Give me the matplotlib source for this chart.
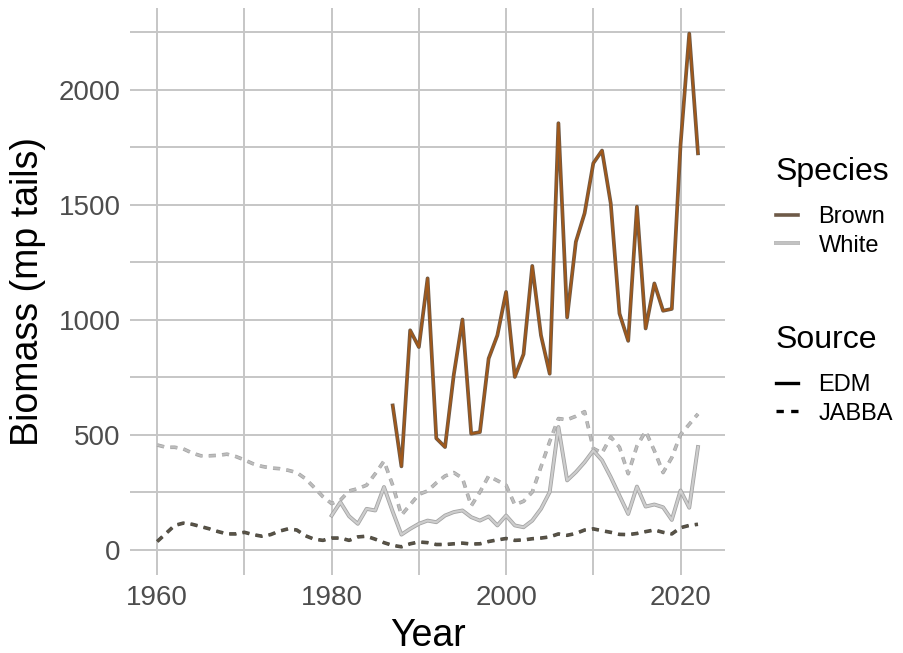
import numpy as np
import matplotlib.pyplot as plt
import matplotlib.patheffects as pe
from matplotlib.lines import Line2D

plt.rcParams['font.family'] = ['Liberation Sans', 'DejaVu Sans']

# ---- data ----
years_jabba = list(range(1960, 2023))
years_white_edm = list(range(1980, 2023))
years_brown_edm = list(range(1987, 2023))

brown_edm = [627, 362, 954, 881, 1180, 484, 446, 760, 1001, 504, 511, 831, 932, 1121,
             751, 850, 1234, 932, 765, 1855, 1010, 1339, 1463, 1681, 1736, 1506, 1027,
             908, 1492, 962, 1158, 1039, 1047, 1760, 2245, 1724]

white_edm = [148, 206, 145, 112, 177, 170, 272, 165, 65, 90, 112, 126, 119, 148, 163,
             170, 141, 126, 144, 105, 148, 105, 97, 126, 177, 250, 533, 301, 337, 380,
             431, 388, 315, 235, 155, 274, 187, 196, 184, 129, 257, 182, 446]

white_jabba = [455, 445, 445, 438, 420, 408, 408, 410, 415, 405, 390, 373, 362, 355, 352,
               345, 335, 308, 270, 230, 200, 215, 255, 265, 280, 330, 385, 280, 150, 195,
               240, 255, 290, 320, 335, 310, 190, 250, 320, 300, 280, 195, 210, 250, 360,
               470, 570, 565, 580, 600, 440, 420, 490, 445, 330, 450, 515, 430, 335, 400,
               500, 545, 590]

brown_jabba = [35, 70, 105, 115, 110, 100, 90, 78, 68, 68, 75, 65, 58, 65, 80, 90, 85,
               60, 45, 40, 50, 50, 40, 55, 58, 45, 30, 18, 12, 25, 33, 30, 22, 22, 25,
               28, 24, 25, 35, 42, 48, 40, 42, 47, 50, 55, 68, 62, 70, 85, 90, 82, 75,
               66, 65, 70, 78, 85, 75, 68, 95, 105, 110]

fig = plt.figure(figsize=(9.04, 6.53), dpi=100)
ax = fig.add_axes([0.144, 0.119, 0.658, 0.869])

grid_col = '#c6c6c6'
for v in range(1960, 2030, 10):
    ax.axvline(v, color=grid_col, lw=1.4, zorder=0)
for h in range(0, 2500, 250):
    ax.axhline(h, color=grid_col, lw=1.4, zorder=0)

dash = (0, (3.2, 2.8))

# JABBA (dashed)
ax.plot(years_jabba, white_jabba, color='#bdbdbd', lw=1.6, linestyle=dash,
        path_effects=[pe.Stroke(linewidth=2.6, foreground='#a2a2a2'), pe.Normal()], zorder=2)
ax.plot(years_jabba, brown_jabba, color='#5a5346', lw=1.6, linestyle=dash,
        path_effects=[pe.Stroke(linewidth=2.6, foreground='#4a4a44'), pe.Normal()], zorder=2)

# EDM (solid)
ax.plot(years_white_edm, white_edm, color='#cdcdcd', lw=1.6,
        path_effects=[pe.Stroke(linewidth=2.8, foreground='#a4a4a4'), pe.Normal()], zorder=3)
ax.plot(years_brown_edm, brown_edm, color='#a0581a', lw=1.5,
        path_effects=[pe.Stroke(linewidth=2.7, foreground='#6e5a48'), pe.Normal()], zorder=4)

ax.set_xlim(1956.9, 2025.1)
ax.set_ylim(-112, 2357)
ax.set_xticks([1960, 1980, 2000, 2020])
ax.set_yticks([0, 500, 1000, 1500, 2000])
for s in ax.spines.values():
    s.set_visible(False)
ax.tick_params(length=0, labelsize=20, colors='#4d4d4d', pad=7)
ax.set_xlabel('Year', fontsize=27, labelpad=5)
ax.set_ylabel('Biomass (mp tails)', fontsize=27, labelpad=9)

# legends (titles drawn as plain text for spacing control)
W, H = 904, 653
fig.text(776 / W, 1 - 172 / H, 'Species', fontsize=23, va='center', ha='left')
fig.text(776 / W, 1 - 340 / H, 'Source', fontsize=23, va='center', ha='left')

sp_handles = [Line2D([], [], color='#6e5a48', lw=2.6),
              Line2D([], [], color='#c2c2c2', lw=2.6,
                     path_effects=[pe.Stroke(linewidth=2.8, foreground='#a8a8a8'), pe.Normal()])]
leg1 = fig.legend(sp_handles, ['Brown', 'White'], loc='upper left',
                  bbox_to_anchor=(776 / W, 1 - 206 / H), frameon=False, fontsize=17,
                  handlelength=0.95, handletextpad=0.85, labelspacing=0.28,
                  borderpad=0, borderaxespad=0)
src_handles = [Line2D([], [], color='black', lw=2.4),
               Line2D([], [], color='black', lw=2.4, linestyle=(0, (2.2, 2.2)))]
leg2 = fig.legend(src_handles, ['EDM', 'JABBA'], loc='upper left',
                  bbox_to_anchor=(776 / W, 1 - 374 / H), frameon=False, fontsize=17,
                  handlelength=0.95, handletextpad=0.85, labelspacing=0.28,
                  borderpad=0, borderaxespad=0)

fig.savefig('out.png', dpi=100)
